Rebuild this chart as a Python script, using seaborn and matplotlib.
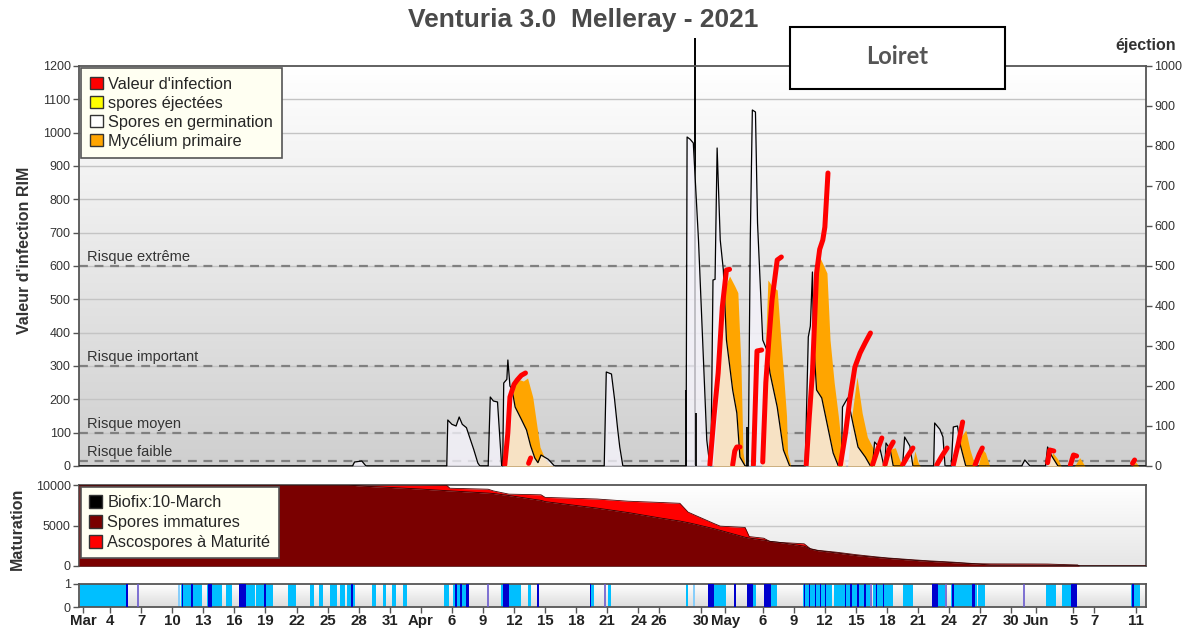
import numpy as np
import pandas as pd
import matplotlib
matplotlib.use("Agg")
import matplotlib.pyplot as plt
import seaborn as sns
from matplotlib.patches import Patch, Rectangle
from matplotlib.colors import LinearSegmentedColormap

# x axis = days after 1 March 2021
tick_days = [0.4, 3, 6, 9, 12, 15, 18, 21, 24, 27, 30, 33, 36, 39, 42, 45, 48, 51, 54, 56,
             60, 62.4, 66, 69, 72, 75, 78, 81, 84, 87, 90, 92.4, 96, 98, 102]
tick_labels = ["Mar", "4", "7", "10", "13", "16", "19", "22", "25", "28", "31", "Apr", "6", "9",
               "12", "15", "18", "21", "24", "26", "30", "May", "6", "9", "12", "15", "18", "21",
               "24", "27", "30", "Jun", "5", "7", "11"]

# ---- Spores en germination (black outline) ----
germ_days = [0, 26.4, 26.6, 27.3, 27.7,
             35.5, 35.6, 36.0, 36.4, 36.7, 37.0, 37.4, 37.7, 38.1, 38.5, 38.7,
             39.5, 39.7, 40.0, 40.4, 40.8,
             40.9, 41.0, 41.3, 41.4, 41.6, 41.8, 42.1, 42.7, 43.2, 43.6, 44.0, 44.3, 44.6, 45.3, 45.9,
             50.7, 50.9, 51.4, 51.7, 52.0, 52.2, 52.5,
             58.6, 58.7, 59.0, 59.3, 59.8, 60.2, 60.6, 60.9,
             61.0, 61.2, 61.4, 61.6, 61.9, 62.2, 62.5, 63.1, 63.5, 63.8, 64.3,
             64.6, 64.8, 65.0, 65.3, 65.5, 66.0, 66.4, 66.7, 67.4, 68.0, 68.6,
             70.1, 70.4, 70.6, 70.8, 70.9, 71.2, 71.7, 72.2, 72.8, 73.3,
             73.6, 73.7, 74.2, 74.7, 75.2, 75.9, 76.4,
             76.6, 76.8, 77.3, 77.7, 77.8, 77.9, 78.3, 78.6,
             79.5, 79.7, 80.2, 80.5,
             82.5, 82.6, 83.1, 83.4, 83.6,
             84.2, 84.4, 84.8, 85.1, 85.6,
             91.0, 91.3, 91.8,
             93.3, 93.5, 93.9, 94.5, 103]
germ_vals = [0, 0, 12, 15, 0,
             0, 138, 125, 120, 147, 125, 115, 87, 50, 9, 0,
             0, 207, 195, 192, 0,
             0, 249, 260, 318, 240, 230, 177, 140, 108, 60, 24, 10, 33, 20, 0,
             0, 282, 276, 200, 110, 57, 0,
             0, 987, 980, 969, 678, 378, 78, 0,
             0, 558, 560, 954, 678, 588, 378, 228, 159, 27, 0,
             0, 678, 1068, 1062, 729, 378, 348, 279, 177, 48, 0,
             0, 387, 420, 582, 378, 228, 204, 129, 39, 0,
             0, 177, 204, 129, 57, 27, 0,
             0, 72, 55, 0, 0, 69, 50, 0,
             0, 87, 60, 0,
             0, 129, 110, 87, 0,
             0, 117, 120, 60, 0,
             0, 18, 0,
             0, 57, 30, 0, 0]

# thin black spikes
spike_days = [59.5, 58.6, 59.6, 64.5]
spike_vals = [1284, 228, 160, 117]

# ---- Mycélium primaire ----
myc_days = [0, 41.1, 41.6, 42.0, 42.4, 42.9, 43.3, 43.8, 44.2, 44.5, 45.0, 45.5, 45.8,
            61.2, 61.6, 62.0, 62.4, 62.8, 63.3, 63.6, 63.9, 64.1, 64.3,
            65.9, 66.2, 66.5, 66.9, 67.4, 67.7, 68.0, 68.3, 68.4, 68.7,
            70.4, 70.8, 71.1, 71.5, 71.9, 72.2, 72.5, 72.9, 73.3, 73.6, 74.0,
            74.2, 74.6, 75.1, 75.6, 76.1, 76.6, 77.3, 77.8,
            78.3, 78.8, 79.2, 79.5,
            80.4, 80.7, 81.0, 81.2,
            84.6, 85.2, 85.6, 86.0, 86.5,
            86.8, 87.2, 87.5, 87.9,
            93.5, 94.0, 94.5, 94.8,
            96.1, 96.6, 97.1,
            101.7, 102.0, 102.3, 103]
myc_vals = [0, 0, 100, 240, 260, 255, 264, 207, 120, 57, 20, 3, 0,
            0, 150, 380, 540, 570, 540, 520, 300, 40, 0,
            0, 300, 558, 540, 528, 400, 279, 150, 39, 0,
            0, 250, 500, 627, 600, 579, 378, 250, 150, 60, 0,
            0, 150, 267, 159, 87, 57, 30, 0,
            50, 55, 20, 0,
            0, 45, 10, 0,
            0, 90, 108, 50, 0,
            0, 50, 40, 0,
            0, 40, 20, 0,
            0, 25, 0,
            0, 12, 0, 0]

# ---- Valeur d'infection (red), nan = break ----
nan = np.nan
inf_days = [41.1, 41.4, 41.6, 42.0, 42.3, 42.7, 43.1, nan,
            43.4, 43.6, nan,
            60.9, 61.3, 61.7, 62.1, 62.5, 62.8, nan,
            63.1, 63.3, 63.5, 63.8, nan,
            65.1, 65.3, 65.4, 65.45, 65.9, nan,
            66.0, 66.3, 66.6, 66.9, 67.4, 67.8, nan,
            70.2, 70.5, 70.8, 71.2, 71.5, 71.8, 72.0, 72.3, nan,
            73.5, 74.0, 74.4, 74.9, 75.4, 75.9, 76.4, nan,
            76.6, 77.1, 77.5, nan,
            77.8, 78.2, 78.6, nan,
            79.5, 80.0, 80.5, nan,
            82.8, 83.3, 83.8, nan,
            84.4, 84.9, 85.3, nan,
            86.5, 86.9, 87.2, nan,
            93.5, 93.7, 94.1, nan,
            95.7, 96.0, 96.3, nan,
            101.7, 101.9]
inf_vals = [3, 100, 207, 245, 258, 272, 279, nan,
            8, 24, nan,
            3, 150, 279, 477, 588, 590, nan,
            3, 45, 57, 57, nan,
            3, 200, 300, 345, 348, nan,
            12, 250, 380, 498, 618, 627, nan,
            3, 150, 279, 579, 650, 678, 717, 879, nan,
            3, 100, 198, 297, 339, 370, 399, nan,
            3, 50, 84, nan,
            3, 50, 72, nan,
            3, 30, 54, nan,
            3, 30, 54, nan,
            3, 70, 132, nan,
            3, 35, 54, nan,
            10, 48, 45, nan,
            3, 33, 30, nan,
            8, 18]

risk_vals = [600, 300, 100, 15]
risk_labels = ["Risque extrême", "Risque important", "Risque moyen", "Risque faible"]

# ---- Maturation ----
mat_days = [0, 26, 27.5, 30, 33, 35.5, 35.8, 39.5, 40, 41.5, 44.6, 45, 50, 53, 56, 58, 58.8,
            59.5, 61.3, 61.9, 64.3, 64.7, 66.1, 66.7, 67.8, 70, 70.6, 71.3, 73.2, 75, 76.8,
            78, 80.6, 82, 84.3, 86.5, 88, 92, 93.5, 96.4, 96.6, 103]
immatures = [10000, 10000, 9850, 9700, 9500, 9300, 9280, 9000, 8950, 8700, 8100, 7950, 7150,
             6600, 5950, 5550, 5350, 5150, 4600, 4400, 3550, 3450, 3200, 3050, 2880, 2450, 2100,
             1900, 1600, 1290, 1080, 950, 700, 580, 420, 260, 120, 100, 100, 90, 0, 0]
maturite = [10000, 10000, 10000, 10000, 10000, 9950, 9600, 9480, 9270, 8870, 8790, 8470, 8270,
            8000, 7850, 7740, 6650, 6250, 5240, 4920, 4760, 3630, 3430, 3020, 2900, 2740, 2140,
            1940, 1690, 1400, 1150, 1000, 760, 640, 480, 290, 260, 250, 240, 120, 0, 0]

# ---- wetness strip ----
light_start = [0.1, 9.85, 12.4, 14.2, 16.1, 17.1, 20.2, 22.3, 23.2, 24.2, 25.2, 25.9, 28.3,
               29.3, 30.2, 31.3, 35.2, 36.1, 40.7, 43.3, 49.3, 51.1, 58.6, 61.3, 65.1, 66.8,
               69.9, 72.9, 74.6, 76.6, 79.5, 82.9, 84.2, 86.8, 93.3, 94.9, 101.6]
light_end = [4.5, 11.9, 13.85, 14.8, 17.0, 18.7, 20.9, 22.7, 23.6, 24.9, 25.7, 26.6, 28.7,
             29.6, 30.6, 31.7, 35.7, 37.6, 42.7, 43.6, 49.7, 51.4, 58.8, 62.5, 65.4, 67.4,
             72.7, 74.4, 76.4, 78.6, 80.5, 83.6, 86.7, 87.5, 94.3, 96.3, 102.4]
dark_start = [4.5, 9.9, 10.85, 12.5, 15.4, 17.9, 26.3, 36.3, 36.8, 37.4, 40.9, 44.2, 49.35,
              60.7, 63.2, 64.5, 66.1, 70.0, 70.5, 71.0, 71.5, 72.0, 73.9, 74.4, 75.1, 75.8,
              76.9, 77.6, 82.3, 84.3, 86.2, 95.8, 101.65]
dark_end = [4.7, 10.05, 11.0, 12.8, 16.1, 18.05, 26.45, 36.5, 36.95, 37.6, 41.5, 44.4, 49.45,
            61.3, 63.4, 65.1, 66.8, 70.1, 70.6, 71.1, 71.6, 72.1, 74.0, 74.6, 75.25, 75.95,
            77.05, 77.75, 82.9, 84.45, 86.5, 96.3, 101.8]
pale_start = [9.6, 59.3]
pale_end = [9.75, 59.5]
purple_days = [5.7, 39.5, 50.8, 76.5, 83.7, 91.2]

sns.set_theme(style="white")
plt.rcParams['font.family'] = ['Liberation Sans', 'DejaVu Sans']

fig = plt.figure(figsize=(11.88, 6.29), dpi=100)
left, width = 79 / 1188, 1067 / 1188
ax = fig.add_axes([left, 1 - 466 / 629, width, 400 / 629])
ax_m = fig.add_axes([left, 1 - 566 / 629, width, 81 / 629])
ax_w = fig.add_axes([left, 1 - 607 / 629, width, 23 / 629])


def gradient(a, bottom_color):
    cmap = LinearSegmentedColormap.from_list("g", ["#ffffff", bottom_color])
    a.imshow(np.linspace(0, 1, 256).reshape(-1, 1), extent=[0, 1, 0, 1],
             transform=a.transAxes, aspect="auto", cmap=cmap, zorder=0)


def style_axes(a):
    for s in a.spines.values():
        s.set_visible(True)
        s.set_color("#555555")
        s.set_linewidth(1.3)
    a.tick_params(axis="y", left=True, direction="out", length=4, width=1,
                  color="#555555", labelcolor="#333333", labelsize=9, pad=2)


# ===== top panel =====
gradient(ax, "#cfcfcf")
for v in range(100, 1200, 100):
    ax.axhline(v, color="#c4c4c4", lw=1, zorder=1)
for v, lab in zip(risk_vals, risk_labels):
    ax.axhline(v, color="#808080", lw=1.6, ls=(0, (4, 3)), zorder=2)
    ax.text(0.0075, v + 6, lab, transform=ax.get_yaxis_transform(), fontsize=10.5,
            color="#333333", va="bottom", ha="left", zorder=2)

ax.vlines(spike_days[:1], 0, spike_vals[:1], color="black", lw=1.4, zorder=2, clip_on=False)
ax.fill_between(myc_days, 0, myc_vals, color="#ffa500", lw=0, zorder=3)
ax.fill_between(germ_days, 0, germ_vals, color="#f6f4fc", alpha=0.78, lw=0, zorder=4)
sns.lineplot(x=germ_days, y=germ_vals, ax=ax, color="black", lw=0.9, sort=False,
             estimator=None, zorder=5)
ax.vlines(spike_days[1:], 0, spike_vals[1:], color="black", lw=1.3, zorder=5)

inf = pd.DataFrame({"day": inf_days, "val": inf_vals})
inf["seg"] = inf["day"].isna().cumsum()
inf = inf.dropna()
sns.lineplot(data=inf, x="day", y="val", units="seg", estimator=None, sort=False,
             color="#ff0000", lw=3.6, ax=ax, zorder=6, solid_capstyle="round")

ax.set_xlim(0, 103)
ax.set_ylim(0, 1200)
ax.set_yticks(range(0, 1201, 100))
ax.set_xticks([])
ax.set_xlabel("")
ax.set_ylabel("")
style_axes(ax)

ax2 = ax.twinx()
ax2.set_ylim(0, 1000)
ax2.set_yticks(range(0, 1001, 100))
for s in ax2.spines.values():
    s.set_visible(False)
ax2.tick_params(axis="y", right=True, direction="out", length=4, width=1,
                color="#555555", labelcolor="#333333", labelsize=9, pad=2)
ax2.grid(False)
ax.text(1.0, 1.052, "éjection", transform=ax.transAxes, ha="center", va="center",
        fontsize=11.5, fontweight="bold", color="#333333")

top_handles = [Patch(facecolor="#ff0000", edgecolor="#333333", label="Valeur d'infection"),
               Patch(facecolor="#ffff00", edgecolor="#333333", label="spores éjectées"),
               Patch(facecolor="#ffffff", edgecolor="#333333", label="Spores en germination"),
               Patch(facecolor="#ffa500", edgecolor="#333333", label="Mycélium primaire")]
leg = ax.legend(handles=top_handles, loc="upper left", bbox_to_anchor=(0.002, 0.996),
                borderaxespad=0, fontsize=11.8, frameon=True, fancybox=False, framealpha=1,
                facecolor="#fffff2", edgecolor="#555555", handlelength=0.8, handleheight=0.8,
                handletextpad=0.3, labelspacing=0.25, borderpad=0.55)
leg.set_zorder(10)
leg.get_frame().set_linewidth(1.2)

# ===== maturation panel =====
gradient(ax_m, "#e6e6e6")
ax_m.axhline(5000, color="#c8c8c8", lw=1, zorder=1)
ax_m.fill_between(mat_days, immatures, maturite, color="#ff0000", lw=0, zorder=2)
ax_m.fill_between(mat_days, 0, immatures, color="#7a0000", lw=0, zorder=3)
sns.lineplot(x=mat_days, y=maturite, ax=ax_m, color="#500000", lw=0.6, sort=False,
             estimator=None, zorder=4)
sns.lineplot(x=mat_days, y=immatures, ax=ax_m, color="#300000", lw=0.6, sort=False,
             estimator=None, zorder=4)
ax_m.set_xlim(0, 103)
ax_m.set_ylim(0, 10000)
ax_m.set_yticks([0, 5000, 10000])
ax_m.set_xticks([])
ax_m.set_xlabel("")
ax_m.set_ylabel("")
style_axes(ax_m)
mat_handles = [Patch(facecolor="#000000", edgecolor="#333333", label="Biofix:10-March"),
               Patch(facecolor="#7a0000", edgecolor="#333333", label="Spores immatures"),
               Patch(facecolor="#ff0000", edgecolor="#333333", label="Ascospores à Maturité")]
leg2 = ax_m.legend(handles=mat_handles, loc="upper left", bbox_to_anchor=(0.002, 0.975),
                   borderaxespad=0, fontsize=11.8, frameon=True, fancybox=False, framealpha=1,
                   facecolor="#fffff2", edgecolor="#555555", handlelength=0.8,
                   handleheight=0.8, handletextpad=0.3, labelspacing=0.3, borderpad=0.5)
leg2.set_zorder(10)
leg2.get_frame().set_linewidth(1.2)

# ===== wetness strip =====
gradient(ax_w, "#dcdcdc")
ax_w.bar(light_start, 1, width=np.subtract(light_end, light_start), align="edge",
         color="#00bfff", lw=0, zorder=2)
ax_w.bar(pale_start, 1, width=np.subtract(pale_end, pale_start), align="edge",
         color="#87cefa", lw=0, zorder=2)
ax_w.bar(dark_start, 1, width=np.subtract(dark_end, dark_start), align="edge",
         color="#0000cd", lw=0, zorder=3)
ax_w.vlines(purple_days, 0, 1, color="#6a5acd", lw=1.2, zorder=3)
ax_w.set_xlim(0, 103)
ax_w.set_ylim(0, 1)
ax_w.set_yticks([0, 1])
ax_w.set_xticks(tick_days)
ax_w.set_xticklabels(tick_labels, fontweight="bold", fontsize=10.8, color="#222222")
style_axes(ax_w)
ax_w.tick_params(axis="x", bottom=True, direction="out", length=4, width=1,
                 color="#555555", pad=1)

# ===== texts =====
fig.text(583.5 / 1188, 1 - 20 / 629, "Venturia 3.0  Melleray - 2021", ha="center",
         va="center", fontsize=19, fontweight="bold", color="#4a4a4a")
fig.text(0.021, 1 - 250 / 629, "Valeur d'infection RIM", rotation=90, ha="center",
         va="center", fontsize=11.5, fontweight="bold", color="#333333")
fig.text(0.015, 1 - 529 / 629, "Maturation", rotation=90, ha="center", va="center",
         fontsize=11.5, fontweight="bold", color="#333333")

fig.add_artist(Rectangle((790 / 1188, 1 - 89 / 629), 215 / 1188, 62 / 629,
                         transform=fig.transFigure, facecolor="white", edgecolor="black",
                         lw=1.5, zorder=20))
fig.text(897.5 / 1188, 1 - 57 / 629, "Loiret", ha="center", va="center", fontsize=17,
         fontweight="bold", color="#555555", family=["Lato", "DejaVu Sans"], zorder=21)

fig.savefig("out.png", dpi=100)
